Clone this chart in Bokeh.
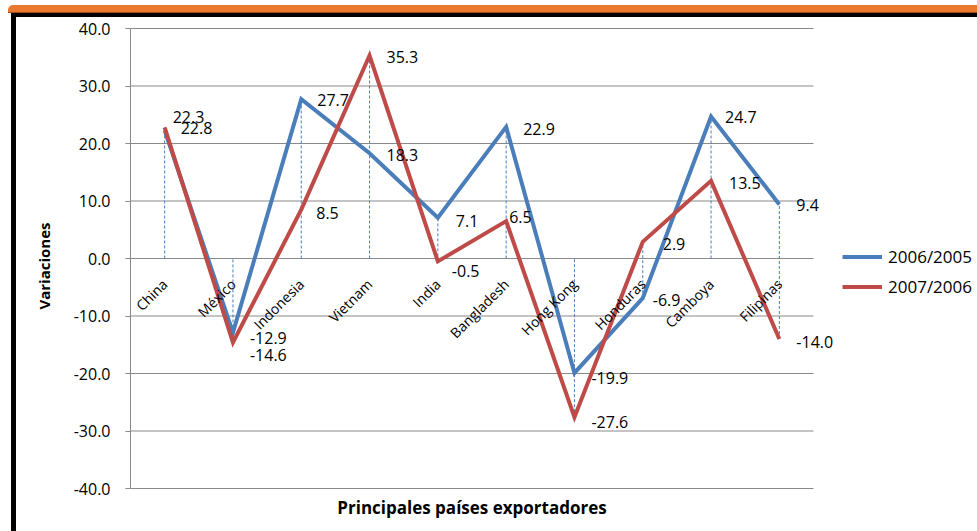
import math
from bokeh.plotting import figure
from bokeh.models import (ColumnDataSource, Range1d, LabelSet, Label, Legend, LegendItem,
                          NumeralTickFormatter, FixedTicker, GridBox, Div)
from bokeh.core.properties import value
from bokeh.embed import file_html
from bokeh.resources import INLINE

# ---------------- data ----------------
categories = ["China", "México", "Indonesia", "Vietnam", "India", "Bangladesh",
              "Hong Kong", "Honduras", "Camboya", "Filipinas"]
var_2006_2005 = [22.3, -12.9, 27.7, 18.3, 7.1, 22.9, -19.9, -6.9, 24.7, 9.4]
var_2007_2006 = [22.8, -14.6, 8.5, 35.3, -0.5, 6.5, -27.6, 2.9, 13.5, -14.0]
series_names = ["2006/2005", "2007/2006"]
y_ticks = [-40, -30, -20, -10, 0, 10, 20, 30, 40]
y_title = "Variaciones"
x_title = "Principales países exportadores"

# ---------------- style ----------------
BLUE = "#4A7EBB"
RED = "#BE4B48"
GRID = "#898989"
FONT = "Open Sans"
# data-label offsets in px (right, down)
blue_dx = [8, 17, 16, 17, 18, 17, 17, 10, 14, 17]
blue_dy = [-13, 5, 1, 2, 3, 2, 5, 2, 1, 1]
red_dx = [16, 17, 15, 17, 14, 3, 17, 20, 18, 17]
red_dy = [1, 13, 3, 1, 10, -4, 5, 2, 2, 3]

W, H = 977, 531
FL, FR, FT, FB = 130, 813, 28, 488   # plot-area edges in canvas px
n = len(categories)
ymin, ymax = y_ticks[0], y_ticks[-1]
ux = (FR - FL) / n                    # px per category
uy = (FB - FT) / (ymax - ymin)        # px per unit


def px_y(py):
    return ymax - (py - FT) / uy


# frame spans from the value axis to the right/top/bottom edges of the canvas
p = figure(x_range=Range1d(0, (W - FL) / ux), y_range=Range1d(px_y(H), px_y(0)),
           width=W, height=H, output_backend="svg", toolbar_location=None,
           x_axis_location=None, min_border_left=FL, min_border_right=0,
           min_border_top=0, min_border_bottom=0)
p.outline_line_color = None
p.grid.visible = False
p.background_fill_alpha = 0
p.border_fill_alpha = 0

yax = p.yaxis[0]
yax.bounds = (ymin, ymax)
yax.ticker = FixedTicker(ticks=y_ticks)
yax.formatter = NumeralTickFormatter(format="0.0")
yax.axis_line_color = GRID
yax.major_tick_line_color = GRID
yax.major_tick_out = 5
yax.major_tick_in = 0
yax.minor_tick_line_color = None
yax.major_label_standoff = 15
yax.major_label_text_font = FONT
yax.major_label_text_font_size = "16px"
yax.major_label_text_color = "black"
yax.axis_label = y_title
yax.axis_label_text_font = FONT
yax.axis_label_text_font_size = "15px"
yax.axis_label_text_font_style = "bold"
yax.axis_label_text_color = "black"
yax.axis_label_standoff = 17

xpos = [i + 0.5 for i in range(n)]

# horizontal gridlines across the plot area
p.segment(x0=[0] * len(y_ticks), y0=y_ticks, x1=[n] * len(y_ticks), y1=y_ticks,
          line_color=GRID, line_width=1)

# drop lines
lo = [min(0, a, b) for a, b in zip(var_2006_2005, var_2007_2006)]
hi = [max(0, a, b) for a, b in zip(var_2006_2005, var_2007_2006)]
p.segment(x0=xpos, y0=lo, x1=xpos, y1=hi, line_color=BLUE, line_width=1, line_dash="3 2")

# series
r_blue = p.line(xpos, var_2006_2005, line_color=BLUE, line_width=4, line_join="miter")
r_red = p.line(xpos, var_2007_2006, line_color=RED, line_width=4, line_join="miter")

# data labels
lab_src = ColumnDataSource(dict(
    x=xpos + xpos,
    y=var_2006_2005 + var_2007_2006,
    t=[f"{v:.1f}" for v in var_2006_2005 + var_2007_2006],
    dx=blue_dx + red_dx,
    dy=[-d for d in blue_dy + red_dy],
))
p.add_layout(LabelSet(x="x", y="y", text="t", source=lab_src, x_offset="dx", y_offset="dy",
                      text_align="left", text_baseline="middle", text_font=value(FONT),
                      text_font_size="16px", text_color="black"))

# category labels along the zero line
cat_src = ColumnDataSource(dict(x=xpos, y=[0] * n, t=categories))
p.add_layout(LabelSet(x="x", y="y", text="t", source=cat_src, x_offset=0, y_offset=-23,
                      angle=math.pi / 4, text_align="right", text_baseline="middle",
                      text_font=value(FONT), text_font_size="14px", text_color="black"))

# category axis title
p.add_layout(Label(x=n / 2, y=ymin, text=x_title, y_offset=-19,
                   text_align="center", text_baseline="middle", text_font=FONT,
                   text_font_size="17px", text_font_style="bold", text_color="black"))

# legend
legend = Legend(items=[LegendItem(label=series_names[0], renderers=[r_blue]),
                       LegendItem(label=series_names[1], renderers=[r_red])],
                location=(842 - FL, H - 300), orientation="vertical",
                glyph_width=40, glyph_height=27, spacing=3, padding=0, margin=0,
                label_standoff=6, border_line_color=None, background_fill_alpha=0,
                label_text_font=FONT, label_text_font_size="17px",
                label_text_color="black")
p.add_layout(legend, "center")

# chart-box decoration behind the figure: orange band and black border
deco = Div(width=W, height=H, text=(
    '<div style="position:relative;width:977px;height:531px;background:white;">'
    '<div style="position:absolute;left:3px;top:0;width:974px;height:7px;'
    'background:#E8792F;border-top-left-radius:5px;"></div>'
    '<div style="position:absolute;left:3px;top:7px;width:974px;height:1px;background:#9A4A1C;"></div>'
    '<div style="position:absolute;left:6px;top:8px;width:971px;height:4px;background:#000;"></div>'
    '<div style="position:absolute;left:6px;top:8px;width:5px;height:523px;background:#000;"></div>'
    '</div>'))

layout = GridBox(children=[(deco, 0, 0), (p, 0, 0)])
open("out.html", "w").write(file_html(layout, INLINE))
